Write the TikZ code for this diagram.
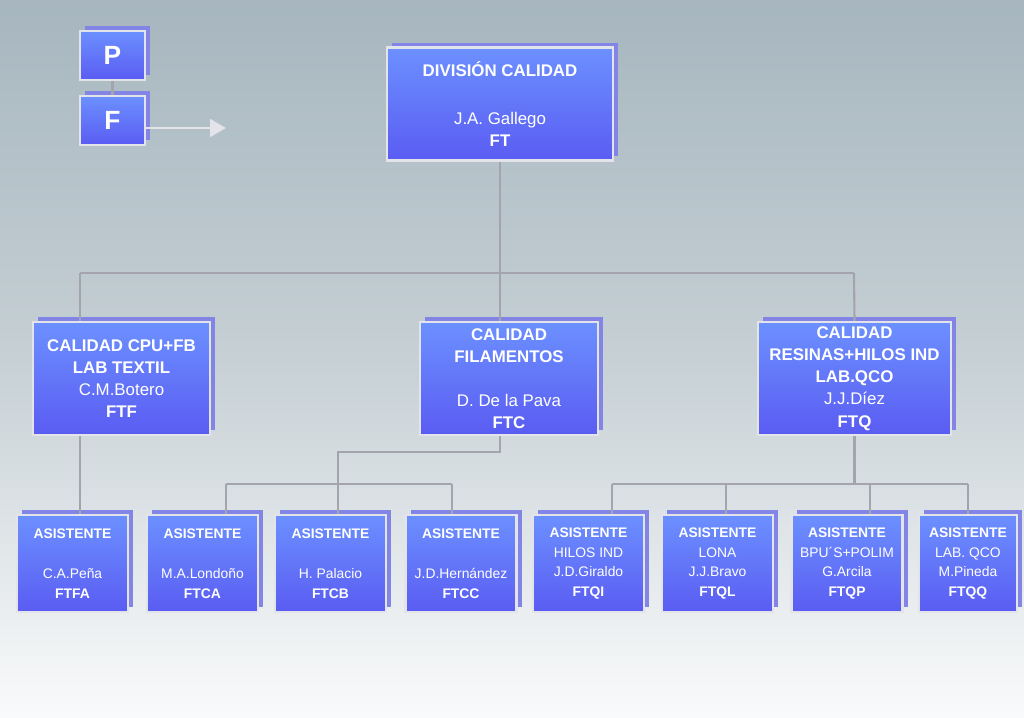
\documentclass[tikz,border=0pt]{standalone}
\usepackage{fontspec}
\setmainfont{Liberation Sans}
\usetikzlibrary{shadows,arrows.meta}
\definecolor{bgtop}{HTML}{A3B3BC}
\definecolor{bgmid}{HTML}{C6D0D5}
\definecolor{boxtop}{HTML}{6C90FF}
\definecolor{boxbot}{HTML}{5A5CF2}
\definecolor{boxshadow}{HTML}{8385E6}
\definecolor{boxline}{HTML}{E2E4EA}
\definecolor{wire}{HTML}{A4A4AE}
\tikzset{
  unit/.style={draw=boxline, line width=1.3pt, top color=boxtop, bottom color=boxbot,
    text=white, align=center, inner sep=0pt,
    drop shadow={shadow xshift=3pt, shadow yshift=2.6pt, fill=boxshadow, opacity=1}},
  head/.style={unit, font=\fontsize{9.6}{12.6}\selectfont, minimum height=2.26cm},
  aide/.style={unit, font=\fontsize{7.9}{11.3}\selectfont, minimum width=2.22cm, minimum height=1.94cm},
  letter/.style={unit, font=\fontsize{15}{16}\selectfont\bfseries, minimum width=1.3cm, minimum height=0.98cm},
  wire/.style={draw=wire, line width=1.2pt}
}
\begin{document}
\begin{tikzpicture}[x=0.02cm, y=-0.02cm]
  \useasboundingbox (0,0) rectangle (1024,717);
  % background
  \begin{scope}
    \clip (0,0) rectangle (1024,717);
    \shade[shading=axis, shading angle=15, top color=bgtop, bottom color=white, middle color=bgmid] (-100,-40) rectangle (1124,757);
  \end{scope}

  % legend
  \node[letter] (p) at (112.5,55.5) {P};
  \node[letter] (f) at (112.5,120.5) {F};
  \draw[wire] (p) -- (f);
  \coordinate (tip) at (226,128);
  \draw[draw=boxline, line width=1.5pt, -{Triangle[length=9pt,width=10pt]}] (f.east |- tip) -- (tip);

  % top
  \node[head, minimum width=4.52cm] (ft) at (500,104) {\textbf{DIVISIÓN CALIDAD}\\[2pt] \\ J.A. Gallego\\ \textbf{FT}};

  % second level
  \node[head, minimum width=3.54cm] (ftf) at (121.5,378.5) {\textbf{CALIDAD CPU+FB}\\ \textbf{LAB TEXTIL}\\ C.M.Botero\\ \textbf{FTF}};
  \node[head, minimum width=3.56cm] (ftc) at (509,378.5) {\textbf{CALIDAD}\\ \textbf{FILAMENTOS}\\ \\ D. De la Pava\\ \textbf{FTC}};
  \node[head, minimum width=3.86cm] (ftq) at (854.5,378.5) {\textbf{CALIDAD}\\ \textbf{RESINAS+HILOS IND}\\ \textbf{LAB.QCO}\\ J.J.Díez\\ \textbf{FTQ}};

  % assistants
  \node[aide] (ftfa) at (72.5,563.5) {\textbf{ASISTENTE}\\ \\ C.A.Peña\\ \textbf{FTFA}};
  \node[aide] (ftca) at (202.5,563.5) {\textbf{ASISTENTE}\\ \\ M.A.Londoño\\ \textbf{FTCA}};
  \node[aide] (ftcb) at (330.5,563.5) {\textbf{ASISTENTE}\\ \\ H. Palacio\\ \textbf{FTCB}};
  \node[aide] (ftcc) at (461,563.5) {\textbf{ASISTENTE}\\ \\ J.D.Hernández\\ \textbf{FTCC}};
  \node[aide] (ftqi) at (588.5,563.5) {\textbf{ASISTENTE}\\ HILOS IND\\ J.D.Giraldo\\ \textbf{FTQI}};
  \node[aide] (ftql) at (717.5,563.5) {\textbf{ASISTENTE}\\ LONA\\ J.J.Bravo\\ \textbf{FTQL}};
  \node[aide] (ftqp) at (847,563.5) {\textbf{ASISTENTE}\\ BPU´S+POLIM\\ G.Arcila\\ \textbf{FTQP}};
  \node[aide, minimum width=1.96cm] (ftqq) at (968,563.5) {\textbf{ASISTENTE}\\ LAB. QCO\\ M.Pineda\\ \textbf{FTQQ}};

  % connectors
  \coordinate (bus) at (80,273);
  \coordinate (mid) at (500,273);
  \coordinate (cbus) at (226,484);
  \coordinate (qbus) at (612,484);
  \draw[wire] (ft.south) -- (mid);
  \draw[wire] (bus) -- (854,273);
  \draw[wire] (bus) -- (bus |- ftf.north);
  \draw[wire] (mid) -- (mid |- ftc.north);
  \draw[wire] (854,273) -- (ftq.north);
  \draw[wire] (bus |- ftf.south) -- (bus |- ftfa.north);
  \draw[wire] (mid |- ftc.south) -- (500,452) -- (338,452) -- (338,484);
  \draw[wire] (cbus) -- (452,484);
  \foreach \x/\n in {226/ftca,338/ftcb,452/ftcc} \draw[wire] (\x,484) -- (\x,0 |- \n.north);
  \draw[wire] (ftq.south) -- (ftq.south |- qbus);
  \draw[wire] (qbus) -- (968,484);
  \foreach \x/\n in {612/ftqi,726/ftql,870/ftqp,968/ftqq} \draw[wire] (\x,484) -- (\x,0 |- \n.north);
\end{tikzpicture}
\end{document}
